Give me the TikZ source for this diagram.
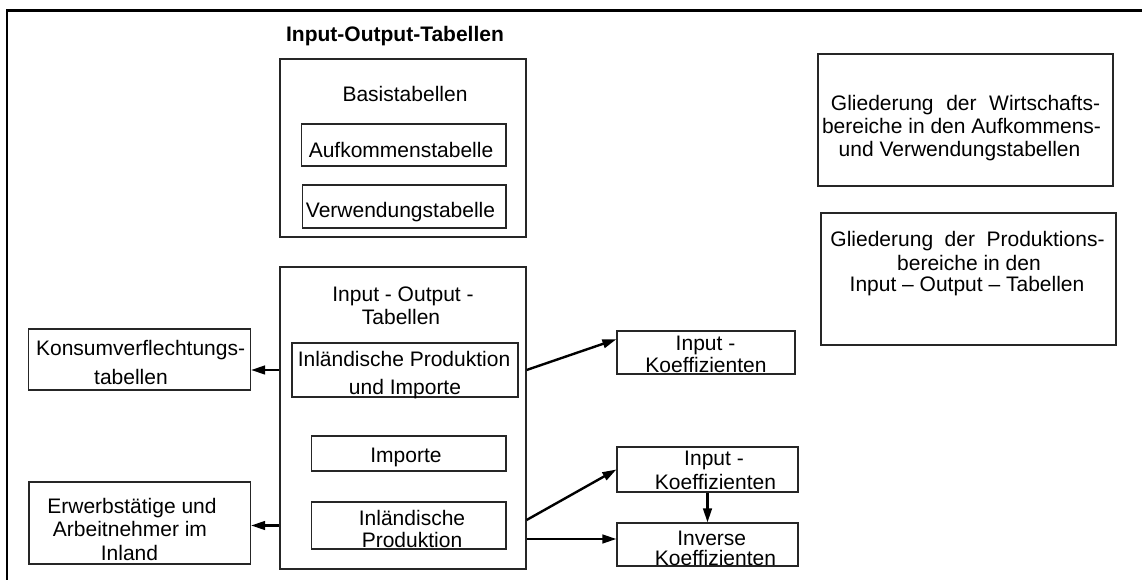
\documentclass[tikz,border=0pt]{standalone}
\usepackage{fontspec}
\setmainfont{Liberation Sans}
\usetikzlibrary{fit,calc,arrows.meta}
\begin{document}
\begin{tikzpicture}[x=0.75pt,y=-0.75pt,
  box/.style={draw=black!85, line width=0.9pt, inner sep=0pt},
  txt/.style={font=\fontsize{15.75}{18}\selectfont, anchor=base, inner sep=0pt},
  arr/.style={line width=1.8pt, -{Triangle[length=10.5pt,width=6.5pt]}},
  frame/.style={line width=2pt}]
\useasboundingbox (0,0) rectangle (1142,580);
\draw[frame] (7,580) -- (7,10.5) -- (1142,10.5);
% boxes
\node[box, fit={(280,59) (526,237)}] (basis) {};
\node[box, fit={(301.5,124) (506,166)}] (auf) {};
\node[box, fit={(302.5,185) (506,228)}] (ver) {};
\node[box, fit={(280,267) (526,569)}] (io) {};
\node[box, fit={(292,343) (518,397)}] (ipi) {};
\node[box, fit={(311.5,436) (506,471)}] (imp) {};
\node[box, fit={(311.5,502) (506,549)}] (ip) {};
\node[box, fit={(28.5,329) (250.5,390)}] (kon) {};
\node[box, fit={(29,482) (250.5,564)}] (erw) {};
\node[box, fit={(617,331) (795,374)}] (ik1) {};
\node[box, fit={(617,447) (798,492)}] (ik2) {};
\node[box, fit={(617,523) (798,566)}] (inv) {};
\node[box, fit={(818,54) (1113,186)}] (g1) {};
\node[box, fit={(821,213) (1116,345)}] (g2) {};
% texts
\node[txt, font=\fontsize{15.75}{18}\selectfont\bfseries] (title) at (395,42) {Input-Output-Tabellen};
\node[txt] (tbasis) at (405,102) {Basistabellen};
\node[txt] (tauf) at (401,158) {Aufkommenstabelle};
\node[txt] (tver) at (400.5,218) {Verwendungstabelle};
\node[txt] (tio1) at (403,302) {Input - Output -};
\node[txt] (tio2) at (401,325) {Tabellen};
\node[txt] (tipi1) at (404,367) {Inländische Produktion};
\node[txt] (tipi2) at (405,395) {und Importe};
\node[txt] (timp) at (406,463) {Importe};
\node[txt] (tip1) at (412,526) {Inländische};
\node[txt] (tip2) at (412,547) {Produktion};
\node[txt] (tkon1) at (140.6,356) {Konsumverflechtungs-};
\node[txt] (tkon2) at (131,385) {tabellen};
\node[txt] (terw1) at (132,513) {Erwerbstätige und};
\node[txt] (terw2) at (130,537) {Arbeitnehmer im};
\node[txt] (terw3) at (129.5,560) {Inland};
\node[txt] (tik1a) at (705.5,351) {Input -};
\node[txt] (tik1b) at (706,373) {Koeffizienten};
\node[txt] (tik2a) at (714,466) {Input -};
\node[txt] (tik2b) at (715.5,489) {Koeffizienten};
\node[txt] (tinva) at (711.7,545) {Inverse};
\node[txt] (tinvb) at (715.5,565) {Koeffizienten};
\node[txt] (tg1a) at (965.5,111) {Gliederung\hspace{0.6em}der\hspace{0.6em}Wirtschafts-};
\node[txt] (tg1b) at (961.5,134) {bereiche in den Aufkommens-};
\node[txt] (tg1c) at (959.5,157) {und Verwendungstabellen};
\node[txt] (tg2a) at (967.5,247) {Gliederung\hspace{0.55em}der\hspace{0.55em}Produktions-};
\node[txt] (tg2b) at (969,271) {bereiche in den};
\node[txt] (tg2c) at (967,292) {Input – Output – Tabellen};
% arrows
\draw[arr] (io.west |- ipi.center) -- (kon.east |- ipi.center);
\draw[arr] (io.west |- ip.center) -- (erw.east |- ip.center);
\draw[arr] (io.east |- ipi.center) -- ($(ik1.south west)!0.8!(ik1.north west)$);
\draw[arr] ($(io.east |- ip.center)+(0,-5.5)$) -- (ik2.west);
\draw[arr] ($(io.east |- ip.center)+(0,13.5)$) -- ($(inv.west |- ip.center)+(0,13.5)$);
\draw[arr] (ik2.south) -- (inv.north);
\end{tikzpicture}
\end{document}
